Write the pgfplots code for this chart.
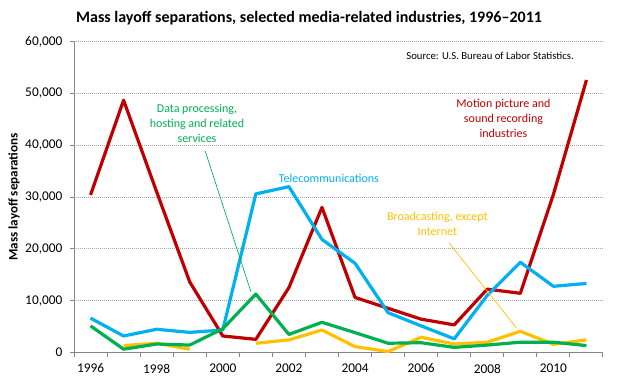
\documentclass[border=0pt]{standalone}
\usepackage{fontspec}
\setmainfont{Carlito}
\usepackage{pgfplots}
\pgfplotsset{compat=1.18}
\definecolor{cred}{HTML}{C00000}
\definecolor{cblue}{HTML}{00B0F0}
\definecolor{cgreen}{HTML}{00B050}
\definecolor{cyellow}{HTML}{FFC000}
\definecolor{axisgray}{HTML}{868686}
\definecolor{gridgray}{HTML}{A6A6A6}
\begin{document}
\begin{tikzpicture}[x=1pt,y=1pt]
\path[use as bounding box] (0,0) rectangle (465,292.5);
\begin{axis}[
  at={(55.5pt,28.275pt)}, anchor=south west,
  scale only axis, width=396.75pt, height=232.95pt,
  xmin=1995.5, xmax=2011.5, ymin=0, ymax=60000,
  clip=false,
  axis x line*=bottom, axis y line*=left,
  axis line style={draw=axisgray, line width=0.75pt, -},
  xtick={1996,1998,...,2010},
  minor xtick={1995.5,1996.5,...,2011.5},
  major x tick style={draw=none},
  minor x tick style={draw=axisgray, line width=0.75pt},
  y tick style={draw=axisgray, line width=0.75pt},
  tick align=outside,
  major tick length=3pt, minor tick length=3.75pt,
  ytick={0,10000,...,60000},
  ymajorgrids,
  major grid style={draw=gridgray, line width=0.6pt, dash pattern=on 0.75pt off 0.75pt},
  scaled y ticks=false,
  tick label style={font=\fontsize{10}{12}\selectfont, text=black},
  xticklabel style={yshift=-2.2pt, /pgf/number format/1000 sep={}, /pgf/number format/assume math mode=true},
  yticklabel style={xshift=-2.2pt, /pgf/number format/.cd, fixed, 1000 sep={,}, assume math mode=true},
  unbounded coords=jump,
]
\addplot[cred, line width=2.4pt, line join=round] coordinates {
(1996,30400) (1997,48700) (1998,31000) (1999,13600) (2000,3150) (2001,2500)
(2002,12500) (2003,28000) (2004,10600) (2005,8500) (2006,6400) (2007,5300)
(2008,12200) (2009,11400) (2010,30500) (2011,52600)};
\addplot[cyellow, line width=2.4pt, line join=round] coordinates {
(1996,nan) (1997,1300) (1998,1750) (1999,600) (2000,nan) (2001,1750)
(2002,2400) (2003,4300) (2004,1100) (2005,150) (2006,2900) (2007,1600)
(2008,1950) (2009,4050) (2010,1550) (2011,2400)};
\addplot[cblue, line width=2.4pt, line join=round] coordinates {
(1996,6600) (1997,3150) (1998,4450) (1999,3850) (2000,4300) (2001,30600)
(2002,32000) (2003,21800) (2004,17200) (2005,7650) (2006,5100) (2007,2600)
(2008,11000) (2009,17400) (2010,12750) (2011,13300)};
\addplot[cgreen, line width=2.4pt, line join=round] coordinates {
(1996,5100) (1997,600) (1998,1600) (1999,1400) (2000,4550) (2001,11250)
(2002,3450) (2003,5800) (2004,3800) (2005,1750) (2006,1850) (2007,950)
(2008,1400) (2009,1950) (2010,1950) (2011,1300)};
\node[text=cgreen, align=center, font=\fontsize{9}{11.25}\selectfont] at (axis cs:1999.22,44270) {Data processing,\\hosting and related\\services};
\draw[cgreen, line width=0.5pt] (axis cs:1999.47,38860) -- (axis cs:2000.85,11700);
\node[text=cblue, font=\fontsize{9}{11.25}\selectfont] at (axis cs:2003.21,33670) {Telecommunications};
\node[text=cred, align=center, font=\fontsize{9}{11.25}\selectfont] at (axis cs:2008.49,45260) {Motion picture and\\sound recording\\industries};
\node[text=cyellow, align=center, font=\fontsize{9}{11.25}\selectfont] at (axis cs:2006.49,24780) {Broadcasting, except\\Internet};
\draw[cyellow, line width=0.5pt] (axis cs:2006.84,21170) -- (axis cs:2008.89,4640);
\end{axis}
\node[font=\bfseries\fontsize{12}{14}\selectfont] at (231.75,279.2) {Mass layoff separations, selected media-related industries, 1996–2011};
\node[anchor=east, font=\fontsize{8}{10}\selectfont, inner sep=0pt] at (430.5,250.5) {Source: U.S. Bureau of Labor Statistics.};
\node[rotate=90, font=\bfseries\fontsize{9.8}{11}\selectfont] at (10.5,144.75) {Mass layoff separations};
\end{tikzpicture}
\end{document}
